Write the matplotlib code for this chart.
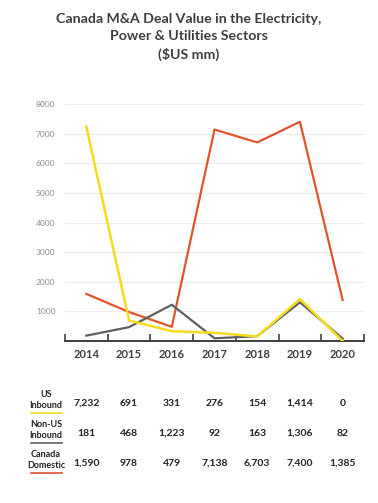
import matplotlib
matplotlib.use('Agg')
import matplotlib.pyplot as plt
from matplotlib.transforms import blended_transform_factory

years = ['2014', '2015', '2016', '2017', '2018', '2019', '2020']
us_inbound = [7232, 691, 331, 276, 154, 1414, 0]
non_us_inbound = [181, 468, 1223, 92, 163, 1306, 82]
canada_domestic = [1590, 978, 479, 7138, 6703, 7400, 1385]

row_labels = ['US\nInbound', 'Non-US\nInbound', 'Canada\nDomestic']
row_values = [us_inbound, non_us_inbound, canada_domestic]

yellow = '#f6dc1c'
grey = '#5e6060'
orange = '#e2532c'
text_dark = '#3e3e40'

plt.rcParams['font.family'] = ['Lato', 'DejaVu Sans']

W, H = 378, 503
fig = plt.figure(figsize=(W / 100, H / 100), dpi=100)
ax = fig.add_axes([65 / W, 1 - 341 / H, 299 / W, (341 - 104) / H])

x = list(range(len(years)))
ax.plot(x, canada_domestic, color=orange, lw=1.6, zorder=3)
ax.plot(x, non_us_inbound, color=grey, lw=1.6, zorder=4)
ax.plot(x, us_inbound, color=yellow, lw=1.8, zorder=5)

ax.set_xlim(-0.5, 6.5)
ax.set_ylim(0, 8000)
ax.set_yticks(range(1000, 8001, 1000))
ax.set_yticklabels([str(v) for v in range(1000, 8001, 1000)], color='#8e8e90', fontsize=6)
ax.tick_params(axis='y', length=0, pad=7)
ax.grid(axis='y', color='#ececec', lw=0.8)
ax.set_axisbelow(True)

ax.set_xticks(x)
ax.set_xticklabels(years, fontsize=8, fontweight='bold', color=text_dark)
ax.set_xticks([i - 0.5 for i in range(len(years) + 1)], minor=True)
ax.tick_params(axis='x', which='major', length=0, pad=6)
ax.tick_params(axis='x', which='minor', direction='in', length=5, width=1.2, color=text_dark)

for s in ['top', 'right', 'left']:
    ax.spines[s].set_visible(False)
ax.spines['bottom'].set_color(text_dark)
ax.spines['bottom'].set_linewidth(1.4)

fig.text(0.5, 1 - 37 / H, 'Canada M&A Deal Value in the Electricity,\nPower & Utilities Sectors\n($US mm)',
         ha='center', va='center', fontsize=10.2, fontweight='bold', color=text_dark,
         linespacing=1.5)

# table below the chart
trans = blended_transform_factory(ax.transData, fig.transFigure)
row_y = [403, 433, 463]
line_colors = [yellow, grey, orange]
for label, vals, ypx, lc in zip(row_labels, row_values, row_y, line_colors):
    yf = 1 - ypx / H
    fig.text(46 / W, 1 - (ypx - 3) / H, label, ha='center', va='center', fontsize=6.5,
             fontweight='bold', color='#222222', linespacing=1.2)
    fig.add_artist(plt.Line2D([31 / W, 62 / W], [1 - (ypx + 10) / H] * 2, color=lc, lw=1.2))
    for i, v in enumerate(vals):
        ax.text(i, yf, f'{v:,}', transform=trans, ha='center', va='center', fontsize=7.5,
                fontweight='bold', color='#222222')

fig.savefig('out.png', dpi=100)
